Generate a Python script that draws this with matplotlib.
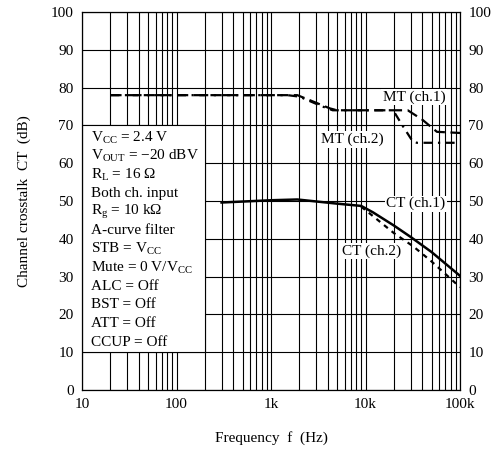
import matplotlib
matplotlib.use('Agg')
import matplotlib.pyplot as plt
from matplotlib.patches import Rectangle

plt.rcParams['font.family'] = 'Liberation Serif'
plt.rcParams['mathtext.fontset'] = 'custom'
plt.rcParams['mathtext.rm'] = 'Liberation Serif'
plt.rcParams['mathtext.it'] = 'Liberation Serif:italic'

# MT (ch.1) - dashed
mt1_f = [20, 1900, 2800, 4200, 5000, 28000, 40000, 57000, 100000]
mt1_db = [78, 78, 76.3, 74.5, 74, 74, 71.5, 68.3, 68]
# MT (ch.2) - dash-dot
mt2_f = [20, 1500, 2000, 3500, 4500, 19600, 25000, 31700, 35000, 90000]
mt2_db = [78, 78, 77.6, 75, 74, 74, 69.7, 65.7, 65.4, 65.4]
# CT (ch.1) - solid
ct1_f = [300, 1000, 1900, 5000, 9000, 12000, 20000, 30000, 50000, 100000]
ct1_db = [49.6, 50.2, 50.4, 49.3, 48.7, 47, 43.5, 40.5, 36.5, 30.2]
# CT (ch.2) - short dashes
ct2_f = [9000, 12000, 20000, 32000, 50000, 100000]
ct2_db = [48.5, 46, 41.5, 38, 34, 27.2]

cond_lines = [
    r'V$_{\mathrm{CC}}$ = 2.4 V',
    r'V$_{\mathrm{OUT}}$ = −20 dBV',
    r'R$_{\mathrm{L}}$ = 16 Ω',
    'Both ch. input',
    r'R$_{\mathrm{g}}$ = 10 kΩ',
    'A-curve filter',
    r'STB = V$_{\mathrm{CC}}$',
    r'Mute = 0 V/V$_{\mathrm{CC}}$',
    'ALC = Off',
    'BST = Off',
    'ATT = Off',
    'CCUP = Off',
]

fig = plt.figure(figsize=(4.95, 4.55), dpi=100)
ax = fig.add_axes([82/495, 65/455, 378/495, 378/455])

ax.set_xscale('log')
ax.set_xlim(10, 100000)
ax.set_ylim(0, 100)
ax.set_yticks(range(0, 101, 10))
ax.set_xticks([10, 100, 1000, 10000, 100000])
ax.set_xticklabels(['10', '100', '1k', '10k', '100k'])
ax.tick_params(axis='both', which='both', length=0, labelsize=11, pad=6)
ax.tick_params(axis='y', right=True, labelright=True)
ax.set_axisbelow(True)
ax.grid(True, which='both', color='black', linewidth=0.8)
for s in ax.spines.values():
    s.set_linewidth(0.9)

ax.plot(mt1_f, mt1_db, color='black', lw=1.6, ls=(0, (5, 2.5)), zorder=3)
ax.plot(mt2_f, mt2_db, color='black', lw=1.6, ls=(0, (4, 2.5, 1, 2.5)), zorder=3)
ax.plot(ct1_f, ct1_db, color='black', lw=1.8, zorder=4)
ax.plot(ct2_f, ct2_db, color='black', lw=1.6, ls=(0, (2.2, 2.2)), zorder=3)

# conditions box
ax.add_patch(Rectangle((10, 10), 190, 60, facecolor='white', edgecolor='black',
                       lw=0.8, zorder=2))
y0 = 66.8
for i, t in enumerate(cond_lines):
    ax.text(12.5, y0 - i * 4.92, t, fontsize=11, va='center', ha='left', zorder=5)

bb = dict(facecolor='white', edgecolor='none', pad=1)
ax.text(32600, 77.5, 'MT (ch.1)', fontsize=11, ha='center', va='center', bbox=bb, zorder=2.5)
ax.text(7200, 66.3, 'MT (ch.2)', fontsize=11, ha='center', va='center', bbox=bb, zorder=2.5)
ax.text(34000, 49.3, 'CT (ch.1)', fontsize=11, ha='center', va='center', bbox=bb, zorder=2.5)
ax.text(11700, 36.8, 'CT (ch.2)', fontsize=11, ha='center', va='center', bbox=bb, zorder=2.5)

ax.set_xlabel('Frequency  f  (Hz)', fontsize=11, labelpad=14)
ax.set_ylabel('Channel crosstalk  CT  (dB)', fontsize=11, labelpad=14)

fig.savefig('out.png', dpi=100)
